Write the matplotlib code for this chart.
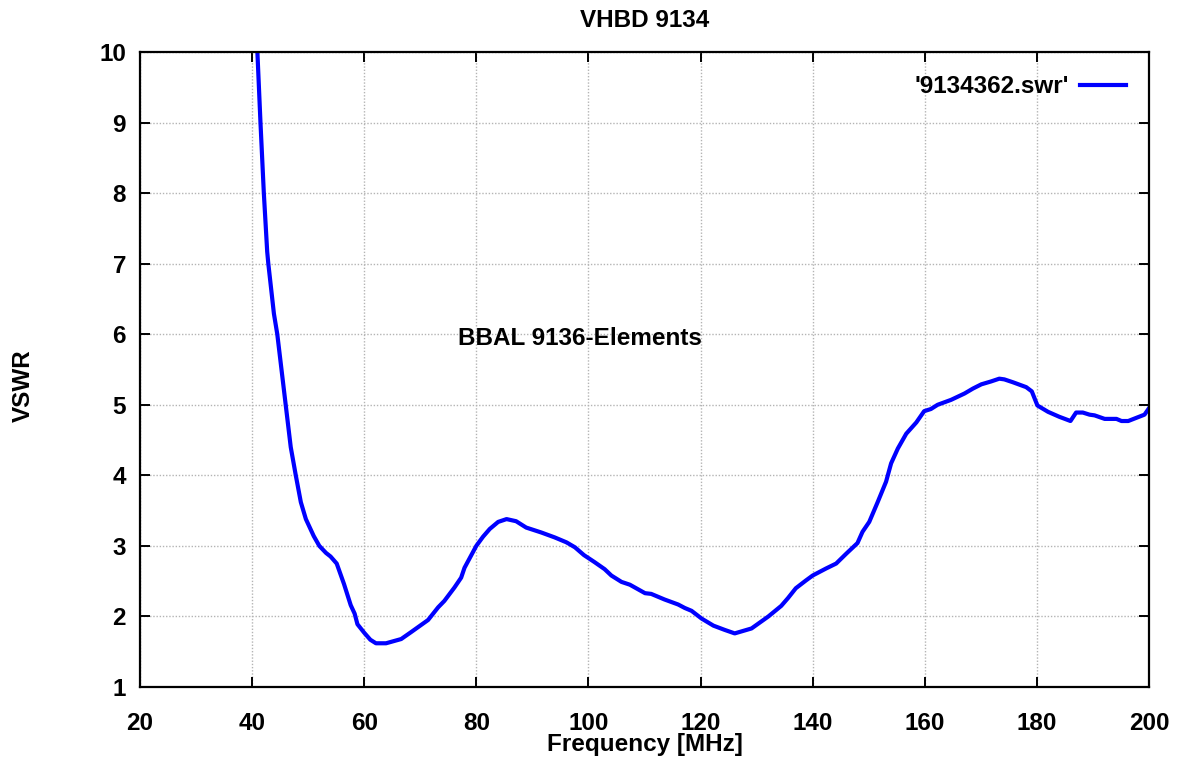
import numpy as np
import matplotlib
matplotlib.use('Agg')
import matplotlib.pyplot as plt

# VSWR curve
freq = [40.95, 41.5, 42.1, 42.7, 42.9, 43.9, 44.5, 45.4, 46.0, 46.9, 47.8, 48.7, 49.6,
        51.0, 52.0, 53.2, 54.0, 55.1, 56.4, 57.6, 58.3, 58.8, 60.0, 61.1, 62.1, 63.9,
        66.6, 68.4, 71.4, 73.2, 74.3, 76.1, 77.3, 77.9, 80.0, 81.2, 82.4, 83.9, 85.4,
        87.1, 88.9, 91.6, 94.0, 96.1, 97.6, 99.2, 101.1, 102.9, 104.1, 105.9, 107.4,
        110.1, 111.2, 113.6, 116.0, 117.2, 118.4, 120.2, 122.3, 124.3, 126.1, 129.1,
        132.1, 134.4, 135.6, 137.0, 138.8, 140.0, 141.2, 142.4, 144.2, 146.0, 148.0,
        148.9, 150.1, 151.6, 153.1, 154.0, 155.2, 156.7, 158.5, 159.9, 161.1, 162.3,
        164.7, 167.1, 168.6, 170.1, 171.8, 173.3, 174.2, 175.7, 178.1, 179.1, 180.1,
        182.0, 184.0, 186.0, 187.0, 188.2, 189.4, 190.3, 192.1, 194.2, 195.1, 196.3,
        199.2, 200.0]
vswr = [10.0, 9.0, 8.0, 7.17, 7.0, 6.29, 6.0, 5.4, 5.0, 4.4, 4.0, 3.62, 3.38,
        3.14, 3.0, 2.9, 2.85, 2.75, 2.46, 2.16, 2.04, 1.89, 1.77, 1.67, 1.62, 1.62,
        1.68, 1.78, 1.95, 2.13, 2.22, 2.41, 2.55, 2.69, 3.0, 3.13, 3.24, 3.34, 3.38,
        3.35, 3.26, 3.19, 3.12, 3.05, 2.98, 2.87, 2.77, 2.67, 2.58, 2.49, 2.45,
        2.33, 2.32, 2.24, 2.17, 2.12, 2.08, 1.97, 1.87, 1.81, 1.76, 1.83,
        2.0, 2.15, 2.26, 2.40, 2.51, 2.58, 2.63, 2.68, 2.75, 2.89, 3.04,
        3.20, 3.34, 3.62, 3.91, 4.17, 4.38, 4.59, 4.75, 4.91, 4.94, 5.0,
        5.07, 5.16, 5.23, 5.29, 5.33, 5.37, 5.36, 5.32, 5.25, 5.19, 4.99,
        4.90, 4.83, 4.77, 4.89, 4.89, 4.86, 4.85, 4.80, 4.80, 4.77, 4.77,
        4.86, 4.95]

xticks = np.arange(20, 201, 20)
yticks = np.arange(1, 11, 1)

plt.rcParams['font.family'] = ['Liberation Sans', 'DejaVu Sans']
plt.rcParams['font.weight'] = 'bold'
fs = 17.5

fig = plt.figure(figsize=(11.8, 7.69), dpi=100)
ax = fig.add_axes([0.1186, 0.1066, 0.8551, 0.8258])

ax.plot(freq, vswr, color='#0000ff', lw=3.0, label="'9134362.swr'")

ax.set_xlim(20, 200)
ax.set_ylim(1, 10)
ax.set_xticks(xticks)
ax.set_yticks(yticks)
ax.tick_params(direction='in', length=7, width=1.4, top=True, right=True,
               labelsize=fs)
ax.tick_params(axis='x', pad=18)
ax.tick_params(axis='y', pad=10)
for lab in ax.get_xticklabels() + ax.get_yticklabels():
    lab.set_fontweight('bold')
ax.grid(True, color='#b4b4b4', linestyle=(0, (1, 1.3)), lw=1.0)
for s in ax.spines.values():
    s.set_linewidth(1.6)

ax.set_title('VHBD 9134', fontsize=fs, fontweight='bold', y=1.0394, pad=0,
             va='baseline')
ax.set_xlabel('Frequency [MHz]', fontsize=fs, fontweight='bold')
ax.xaxis.label.set_va('baseline')
ax.xaxis.set_label_coords(0.5, -0.1008)
ax.set_ylabel('VSWR', fontsize=fs, fontweight='bold')
ax.yaxis.set_label_coords(-0.104, 0.474)

ax.text(76.7, 5.85, 'BBAL 9136-Elements', fontsize=fs, fontweight='bold',
        ha='left', va='baseline')

leg = ax.legend(loc='upper right', frameon=False, markerfirst=False,
                fontsize=fs, handlelength=1.9, handletextpad=0.45,
                borderaxespad=0.55)

fig.savefig('out.png', dpi=100)
